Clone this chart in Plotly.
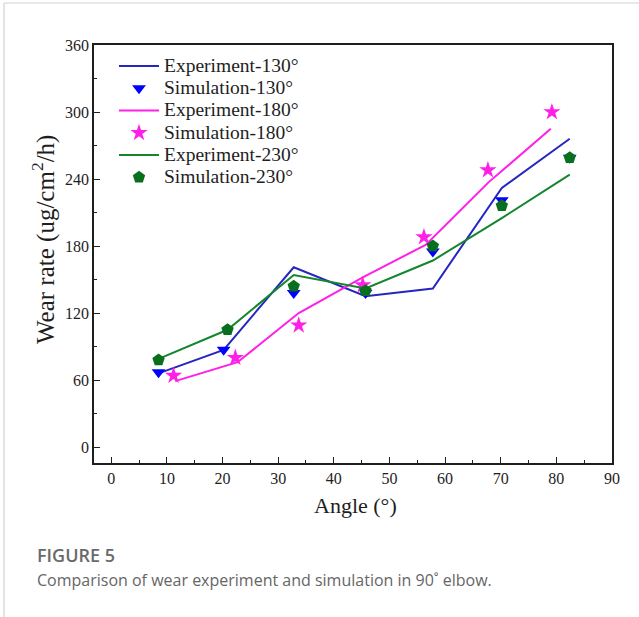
import plotly.graph_objects as go

# Wear-rate measurements and simulations for a 90° elbow
angle_130 = [8.5, 20.2, 32.8, 45.7, 57.8, 70.2, 82.4]
exp_130 = [66, 87, 161, 135, 142, 232, 276]
sim_130 = [67, 87, 138, 138, 175, 221, 259]

angle_180_exp = [11.5, 22.7, 33.7, 45.2, 56.5, 67.8, 79.0]
exp_180 = [59, 76, 120, 152, 181, 237, 285]
angle_180_sim = [11.2, 22.3, 33.7, 45.2, 56.2, 67.7, 79.2]
sim_180 = [64, 80, 109, 145, 188, 248, 300]

angle_230 = [8.5, 20.9, 32.8, 45.7, 57.8, 70.2, 82.4]
exp_230 = [79, 105, 154, 142, 167, 205, 244]
sim_230 = [78, 105, 144, 140, 180, 216, 259]

series_names = ["Experiment-130°", "Simulation-130°", "Experiment-180°",
                "Simulation-180°", "Experiment-230°", "Simulation-230°"]

x_ticks = [0, 10, 20, 30, 40, 50, 60, 70, 80, 90]
y_ticks = [0, 60, 120, 180, 240, 300, 360]

W, H = 639, 617
L, R, T, B = 94, 612, 45, 463  # plot-area edges in pixels


def px(x):
    return (x - L) / (R - L)


def py(y):
    return (B - y) / (B - T)


def big(name):
    # larger legend text while keeping compact legend rows
    return f'<span style="font-size:19.5px">{name}</span>'


BLUE_LINE = "#2626c0"
PINK = "#ff1fe6"
GREEN_LINE = "#13862e"
serif = "Liberation Serif"
INK = "#1e1e1e"

fig = go.Figure()
fig.add_trace(go.Scatter(x=angle_130, y=exp_130, mode="lines", name=big(series_names[0]),
                         line=dict(color=BLUE_LINE, width=2)))
fig.add_trace(go.Scatter(x=angle_130, y=sim_130, mode="markers", name=big(series_names[1]),
                         marker=dict(symbol="triangle-down", size=12, color="#0000ff")))
fig.add_trace(go.Scatter(x=angle_180_exp, y=exp_180, mode="lines", name=big(series_names[2]),
                         line=dict(color=PINK, width=2)))
fig.add_trace(go.Scatter(x=angle_180_sim, y=sim_180, mode="markers", name=big(series_names[3]),
                         marker=dict(symbol="star", size=13, color=PINK)))
fig.add_trace(go.Scatter(x=angle_230, y=exp_230, mode="lines", name=big(series_names[4]),
                         line=dict(color=GREEN_LINE, width=2)))
fig.add_trace(go.Scatter(x=angle_230, y=sim_230, mode="markers", name=big(series_names[5]),
                         marker=dict(symbol="pentagon", size=13, color="#08701c")))


def axis(rng, ticks, minor_step):
    return dict(
        range=rng, tickmode="array", tickvals=ticks,
        showgrid=False, zeroline=False, showline=True, linecolor=INK,
        linewidth=1.6, mirror=True, ticks="inside", tickcolor=INK,
        tickwidth=1.3, ticklen=6,
        tickfont=dict(family=serif, size=16, color=INK),
        minor=dict(dtick=minor_step, ticks="inside", ticklen=3,
                   tickcolor=INK, tickwidth=1.2, showgrid=False),
    )


# Figure card borders (top and left)
fig.add_shape(type="line", xref="paper", yref="paper", x0=px(4), x1=px(W), y0=py(3), y1=py(3),
              line=dict(color="#d2d2d2", width=1.2))
fig.add_shape(type="line", xref="paper", yref="paper", x0=px(4), x1=px(4), y0=py(3), y1=py(H),
              line=dict(color="#d2d2d2", width=1.2))

fig.add_annotation(text="Wear rate (ug/cm<sup>2</sup>/h)", textangle=-90, showarrow=False,
                   xref="paper", yref="paper", x=px(43), y=py(240),
                   xanchor="center", yanchor="middle",
                   font=dict(family=serif, size=25, color=INK))
fig.add_annotation(text="Angle (°)", showarrow=False, xref="paper", yref="paper",
                   x=px(355), y=py(505), xanchor="center", yanchor="middle",
                   font=dict(family=serif, size=22, color=INK))
fig.add_annotation(text="FIGURE 5", showarrow=False, xref="paper", yref="paper",
                   x=px(35), y=py(555), xanchor="left", yanchor="middle",
                   font=dict(family="Open Sans", size=18, color="#6a6a6a", weight=600))
fig.add_annotation(text="Comparison of wear experiment and simulation in 90˚ elbow.",
                   showarrow=False, xref="paper", yref="paper",
                   x=px(35), y=py(580), xanchor="left", yanchor="middle",
                   font=dict(family="Open Sans", size=16, color="#666666"))

fig.update_layout(
    width=W, height=H,
    margin=dict(l=L, r=W - R, t=T, b=H - B),
    font=dict(family=serif, color=INK, size=16),
    paper_bgcolor="white", plot_bgcolor="white",
    xaxis=axis([-3.1, 90], x_ticks, 5),
    yaxis=axis([-14.3, 360], y_ticks, 30),
    legend=dict(x=px(114), y=py(50), xanchor="left", yanchor="top",
                bgcolor="rgba(0,0,0,0)", font=dict(family=serif, size=14.8, color=INK),
                itemwidth=40, tracegroupgap=0),
)

fig.write_html("out.html")
